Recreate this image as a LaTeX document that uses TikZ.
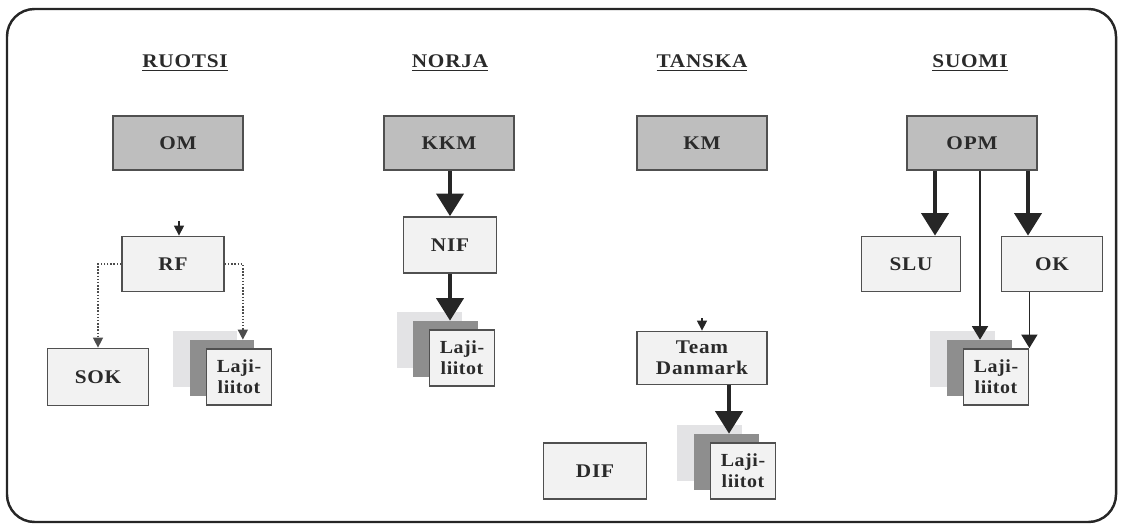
\documentclass[tikz,border=0pt]{standalone}
\usepackage{fontspec}
\setmainfont{Liberation Serif}
\usetikzlibrary{arrows.meta,calc}

\definecolor{ministry}{HTML}{BEBEBE}
\definecolor{orgfill}{HTML}{F2F2F2}
\definecolor{backfill}{HTML}{E3E3E5}
\definecolor{midfill}{HTML}{8E8E8E}
\definecolor{edge}{HTML}{505050}
\definecolor{ink}{HTML}{2A2A2A}

\begin{document}
\begin{tikzpicture}[x=0.02cm,y=-0.02cm,
  every node/.style={text=ink, font=\fontsize{11}{12}\selectfont\bfseries\addfontfeature{FakeStretch=1.1,LetterSpace=4}},
  govbox/.style={draw=edge, line width=1pt, fill=ministry, minimum width=2.6cm, minimum height=1.08cm},
  orgbox/.style={draw=edge, line width=1pt, fill=orgfill, align=center, inner sep=1pt},
  backsheet/.style={fill=backfill, minimum width=1.3cm, minimum height=1.12cm, inner sep=0pt},
  midsheet/.style={fill=midfill, minimum width=1.3cm, minimum height=1.12cm, inner sep=0pt},
  lajibox/.style={draw=edge, line width=1pt, fill=orgfill, minimum width=1.3cm, minimum height=1.12cm, inner sep=0pt, align=center, font=\fontsize{10.5}{12}\selectfont\bfseries\addfontfeature{FakeStretch=1.08,LetterSpace=3}},
  country/.style={font=\fontsize{11}{12}\selectfont\bfseries\addfontfeature{FakeStretch=1.1,LetterSpace=4}},
  bigarrow/.style={-{Triangle[width=0.54cm,length=0.45cm]}, line width=2.2pt, black!85},
  thinarrow/.style={-{Triangle[width=0.32cm,length=0.27cm]}, line width=0.9pt, black!85},
  tinyarrow/.style={-{Triangle[width=0.2cm,length=0.2cm]}, line width=0.6pt, black!85},
  dotarrow/.style={-{Triangle[width=0.2cm,length=0.2cm]}, densely dotted, line width=0.8pt, black!70}]

\useasboundingbox (0,0) rectangle (1121,527);
\draw[line width=1.4pt, black!85, rounded corners=0.55cm] (7,9) rectangle (1116,522);

% maat
\node[country] (ruotsi) at (185,63) {\underline{RUOTSI}};
\node[country] (norja) at (450,63) {\underline{NORJA}};
\node[country] (tanska) at (702,63) {\underline{TANSKA}};
\node[country] (suomi) at (970,63) {\underline{SUOMI}};

% ministeriot
\node[govbox] (om) at (178,143) {OM};
\node[govbox] (kkm) at (449,143) {KKM};
\node[govbox] (km) at (702,143) {KM};
\node[govbox] (opm) at (972,143) {OPM};

% Ruotsi
\node[orgbox, minimum width=2.04cm, minimum height=1.1cm] (rf) at (173,264) {RF};
\node[orgbox, minimum width=2.02cm, minimum height=1.14cm] (sok) at (98,377) {SOK};
\node[backsheet] (rback) at (205,359) {};
\node[midsheet] (rmid) at (222,368) {};
\node[lajibox] (rlaji) at (239,377) {Laji-\\liitot};
\coordinate (rfin) at (179,221);

\draw[tinyarrow] (rfin) -- (rfin |- rf.north);
\draw[dotarrow] (rf.west) -| (sok.north);
\draw[dotarrow] (rf.east) -| ($(rmid.north east)+(-12,0)$);

% Norja
\node[orgbox, minimum width=1.86cm, minimum height=1.12cm] (nif) at (450,245) {NIF};
\node[backsheet] (nback) at (429,340) {};
\node[midsheet] (nmid) at (445,349) {};
\node[lajibox] (nlaji) at (462,358) {Laji-\\liitot};

\draw[bigarrow] (kkm.south -| nif.north) -- (nif.north);
\draw[bigarrow] (nif.south) -- (nif.south |- nmid.north);

% Tanska
\node[orgbox, minimum width=2.6cm, minimum height=1.06cm] (td) at (702,358) {Team\\Danmark};
\node[orgbox, minimum width=2.06cm, minimum height=1.12cm] (dif) at (595,471) {DIF};
\node[backsheet] (tback) at (709,453) {};
\node[midsheet] (tmid) at (726,462) {};
\node[lajibox] (tlaji) at (743,471) {Laji-\\liitot};
\coordinate (tdin) at (702,318);

\draw[tinyarrow] (tdin) -- (td.north);
\draw[bigarrow] ($(td.south)+(27,0)$) -- ($(td.south |- tmid.north)+(27,0)$);

% Suomi
\node[orgbox, minimum width=1.98cm, minimum height=1.1cm] (slu) at (911,264) {SLU};
\node[orgbox, minimum width=2.02cm, minimum height=1.1cm] (ok) at (1052,264) {OK};
\node[backsheet] (sback) at (962,359) {};
\node[midsheet] (smid) at (979,368) {};
\node[lajibox] (slaji) at (996,377) {Laji-\\liitot};

\draw[bigarrow] ($(opm.south)+(-37,0)$) -- ($(opm.south |- slu.north)+(-37,0)$);
\draw[bigarrow] ($(opm.south)+(56,0)$) -- ($(opm.south |- ok.north)+(56,0)$);
\draw[thinarrow] ($(opm.south)+(8,0)$) -- ($(opm.south |- smid.north)+(8,0)$);
\draw[thinarrow] (ok.south -| slaji.north east) -- (slaji.north east);

\end{tikzpicture}
\end{document}
